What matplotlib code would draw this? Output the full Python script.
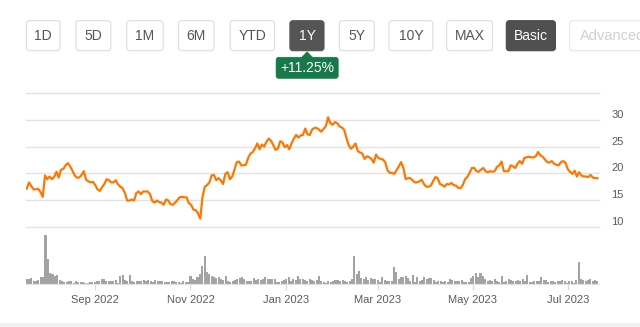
import numpy as np
import pandas as pd
import matplotlib
matplotlib.use("Agg")
from matplotlib import pyplot as plt
from matplotlib.patches import FancyBboxPatch, Polygon, Rectangle
from matplotlib import dates as mdates
from matplotlib import transforms

plt.rcParams["font.family"] = ["Liberation Sans", "DejaVu Sans"]

# daily close, 19 Jul 2022 - 20 Jul 2023
close = [
    17.15, 18.3, 17.6, 17.0, 17.0, 17.1, 16.5, 15.6, 19.6, 18.9, 19.4, 18.9, 19.3,
    20.3, 19.2, 20.7, 20.8, 21.5, 21.9, 21.3, 20.5, 19.6, 19.2, 19.2, 19.7, 20.4,
    18.8, 18.5, 18.3, 18.4, 17.8, 17.0, 16.7, 17.4, 18.0, 18.9, 18.7, 18.3, 18.3,
    18.7, 17.9, 17.5, 17.2, 16.3, 14.9, 14.9, 15.1, 14.9, 16.3, 16.6, 16.1, 16.6,
    16.6, 16.6, 16.1, 14.8, 14.5, 14.9, 14.6, 14.5, 14.1, 15.1, 14.9, 14.2,
    14.1, 14.5, 15.0, 15.5, 15.6, 15.5, 15.5, 14.4, 14.1, 13.2, 13.1, 12.5, 11.5,
    15.6, 17.5, 17.8, 18.3, 19.6, 19.7, 18.7, 19.1, 18.7, 18.0, 19.9, 20.2, 18.9,
    19.4, 20.7, 22.1, 22.2, 21.5, 21.5, 21.6, 22.9, 23.7, 24.0, 24.7, 25.6, 24.5,
    25.4, 25.0, 25.9, 26.5, 26.1, 25.3, 24.4, 24.6, 26.0, 25.8, 24.9, 25.3, 24.5,
    25.6, 26.5, 27.2, 26.7, 27.1, 27.2, 28.4, 27.3, 27.2,
    28.2, 28.5, 28.5, 28.2, 27.8, 28.3, 28.8, 30.5, 29.4, 29.1, 29.6, 29.4, 28.8,
    28.6, 28.2, 26.7, 25.3, 24.6, 25.0, 25.6, 24.2, 23.9, 23.7, 22.7, 23.2, 23.0,
    22.7, 22.0, 23.5, 22.9, 22.7, 22.6, 22.1, 20.6, 20.1, 20.1, 19.9, 20.6, 21.3,
    22.1, 21.0, 18.9, 19.1, 19.1, 18.7, 18.3, 18.3, 18.5, 18.8, 18.0, 17.5, 17.5,
    17.7, 18.5, 19.3, 19.1, 18.0, 17.8, 17.5, 18.0, 17.9, 18.2, 17.8, 17.7, 17.3,
    17.2, 17.8, 18.9, 19.3, 20.1, 21.0, 21.0, 20.4, 20.3, 20.7, 21.0, 20.4, 20.2,
    20.4, 20.3, 20.4, 21.2, 21.5, 22.2, 20.4, 20.4, 20.4, 21.5, 21.3, 21.0, 21.8,
    22.3, 21.8, 22.9, 23.0, 23.1, 23.0, 23.0, 23.2, 24.0, 23.4, 23.1, 22.6, 22.1,
    22.0, 22.3, 21.8, 21.6, 21.5, 22.1, 22.3, 22.0, 20.8, 20.3, 19.9, 20.5, 19.4,
    20.2, 19.6, 19.4, 19.4, 19.3, 19.7, 19.2, 19.1, 19.08,
]

# daily volume, 100k shares
volume = [
    15, 14, 18, 10, 8, 12, 20, 22, 146, 76, 32, 30, 25, 28, 12, 8, 6, 6, 8, 8,
    4, 10, 6, 5, 5, 3, 3, 5, 5, 6, 8, 10, 14, 14, 10, 8, 8, 10, 12, 4,
    25, 28, 12, 8, 28, 10, 6, 8, 8, 10, 12, 10, 12, 8, 6, 12, 8, 10, 8, 5,
    6, 5, 8,
    8, 5, 6, 4, 8, 6, 5, 25, 15, 12, 20, 30, 55, 85, 35, 30, 25, 20, 18,
    22, 15, 12, 24, 10, 5, 8, 12, 15, 18, 20, 15, 10, 10, 8, 18, 12, 14, 12, 15,
    22, 14, 15, 14, 15, 5, 5, 8, 12, 15, 22, 10, 14, 12, 25, 15, 15, 12, 10, 15,
    12,
    10, 12, 25, 8, 5, 4, 8, 6, 10, 12, 12, 10, 12, 8, 6, 8, 14, 85, 30, 40,
    18, 15, 20, 12, 18, 15, 14, 12, 5, 20, 12, 10, 8, 10, 52, 35, 15, 20, 22, 25,
    18, 10, 28, 5, 22, 10, 12, 22, 15, 18, 18, 12, 5, 8, 10, 5, 8, 6, 14, 12,
    10, 8, 10, 12, 5,
    5, 6, 18, 25, 32, 22, 32, 25, 15, 10, 12, 8, 15, 8, 6, 25, 6, 10, 15, 12,
    8, 10, 12, 8, 15, 10, 28, 5, 6, 8, 10, 8, 22, 12, 12, 6, 8, 10, 6, 10,
    10, 12, 8, 4, 10, 8, 4, 12, 65, 15, 12, 10, 12, 14, 8, 12, 10,
]

ranges = ["1D", "5D", "1M", "6M", "YTD", "1Y", "5Y", "10Y", "MAX"]
active_range = "1Y"
modes = ["Basic", "Advanced"]
price_ticks = [10, 15, 20, 25, 30]
start, end = pd.Timestamp("2022-07-19"), pd.Timestamp("2023-07-20")

price_dates = pd.date_range(start, end, periods=len(close))
vol_dates = pd.date_range(start, end, periods=len(volume))
change = (close[-1] / close[0] - 1) * 100

W, H = 640, 327
fig = plt.figure(figsize=(W / 100, H / 100), dpi=100)

# page chrome: range buttons, change badge
ui = fig.add_axes([0, 0, 1, 1], facecolor="none")
ui.set_xlim(0, W)
ui.set_ylim(H, 0)
ui.set_axis_off()

btn_x = [(26.4, 60.1), (75.9, 110.8), (126.7, 163.2), (178.6, 214.0),
         (230.2, 274.5), (289.9, 324.0), (339.4, 374.3), (389.0, 432.8),
         (446.6, 492.5)]
top, bot = 20.7, 50.7
fs = 10
for name, (x0, x1) in zip(ranges, btn_x):
    on = name == active_range
    ui.add_patch(FancyBboxPatch((x0, top), x1 - x0, bot - top,
                                boxstyle="round,pad=0,rounding_size=3",
                                fc="#555555" if on else "white",
                                ec="#555555" if on else "#dddddd", lw=0.8))
    ui.text((x0 + x1) / 2, (top + bot) / 2, name, ha="center", va="center",
            fontsize=fs, color="white" if on else "#555555")

ui.add_patch(FancyBboxPatch((506.3, top), 49.1, bot - top,
                            boxstyle="round,pad=0,rounding_size=3",
                            fc="#505050", ec="#4a4a4a", lw=0.8))
ui.text(530.8, (top + bot) / 2, modes[0], ha="center", va="center",
        fontsize=fs, color="white")
ui.add_patch(FancyBboxPatch((569.6, top), 90, bot - top,
                            boxstyle="round,pad=0,rounding_size=3",
                            fc="white", ec="#e6e6e6", lw=0.8))
ui.text(580, (top + bot) / 2, modes[1], ha="left", va="center",
        fontsize=fs + 0.5, color="#d0d0d0")

green = "#16794a"
ui.add_patch(FancyBboxPatch((276.1, 57.3), 62.1, 21.0,
                            boxstyle="round,pad=0,rounding_size=2.5",
                            fc=green, ec=green, lw=0.5))
ui.add_patch(Polygon([(301.5, 57.6), (307.1, 51.8), (312.7, 57.6)],
                     closed=True, fc=green, ec=green, lw=0.5))
ui.text(307.1, 67.9, f"{change:+.2f}%", ha="center", va="center",
        fontsize=fs, color="white")

ui.add_patch(Rectangle((0, 323), W, 4, fc="#f1f1f1", ec="none"))

# price panel
left, width = 26 / W, 573 / W
ax = fig.add_axes([left, (H - 226.7) / H, width, 133.4 / H])
ax.plot(price_dates, close, color="#ff7600", lw=1.6, solid_joinstyle="round")
ax.set_ylim(10, 35)
xlim = (pd.Timestamp("2022-07-18 12:00"), pd.Timestamp("2023-07-21"))
ax.set_xlim(*xlim)
ax.set_yticks(price_ticks + [35])
ax.set_yticklabels([str(t) for t in price_ticks] + [""])
ax.yaxis.tick_right()
ax.tick_params(axis="y", length=0, pad=9, labelsize=8, labelcolor="#5a5a5a")
ax.tick_params(axis="x", bottom=False, labelbottom=False)
ax.grid(axis="y", color="#e2e2e2", lw=1.0)
for gl in ax.get_ygridlines():
    gl.set_clip_on(False)
lift = transforms.ScaledTranslation(0, 6 / 100, fig.dpi_scale_trans)
for lab in ax.get_yticklabels():
    lab.set_transform(lab.get_transform() + lift)
for s in ax.spines.values():
    s.set_visible(False)
ax.patch.set_alpha(0)

# volume panel
vax = fig.add_axes([left, (H - 284) / H, width, 57.3 / H])
vax.bar(vol_dates, volume, width=1.3, color="#a3a3a3", align="center", lw=0)
vax.set_xlim(*xlim)
vax.set_ylim(0, max(volume) * 57.3 / 48.7)
vax.set_yticks([])
vax.xaxis.set_major_locator(mdates.MonthLocator(bymonth=[1, 3, 5, 7, 9, 11]))
vax.xaxis.set_major_formatter(mdates.DateFormatter("%b %Y"))
vax.tick_params(axis="x", length=4, width=0.8, color="#d8d8d8", pad=4,
                labelsize=8, labelcolor="#5a5a5a")
for s in ["top", "left", "right"]:
    vax.spines[s].set_visible(False)
vax.spines["bottom"].set_color("#e4e4e4")
vax.spines["bottom"].set_linewidth(0.8)
vax.patch.set_alpha(0)

fig.savefig("out.png", dpi=100)
